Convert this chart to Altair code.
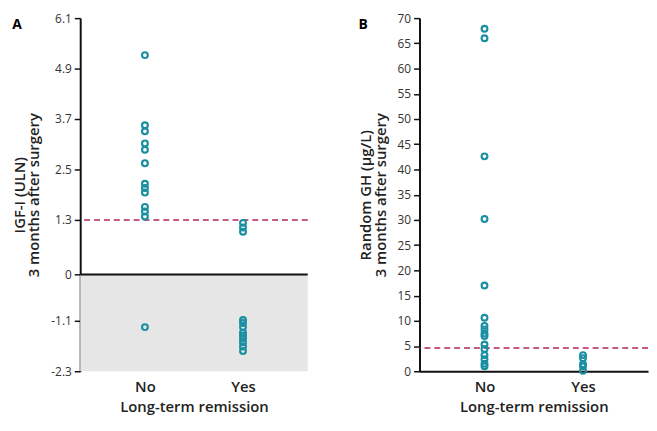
import altair as alt
import pandas as pd

categories = ["No", "Yes"]

# Panel A: IGF-I (ULN) 3 months after surgery
igf_no = [5.22, 3.55, 3.41, 3.12, 2.97, 2.65, 2.16, 2.06, 1.95, 1.61, 1.50, 1.38, -1.25]
igf_yes = [1.23, 1.12, 1.02, -1.08, -1.15, -1.25, -1.38, -1.45, -1.52, -1.61, -1.71, -1.82]
igf_ticks = [-2.3, -1.1, 0, 1.3, 2.5, 3.7, 4.9, 6.1]
igf_domain = [-2.3, 6.1]
igf_cutoff = 1.3

# Panel B: Random GH (µg/L) 3 months after surgery
gh_no = [67.9, 66.0, 42.6, 30.2, 17.0, 10.6, 9.0, 8.3, 7.5, 7.0, 5.3, 4.4, 3.2, 2.4, 1.5, 1.0]
gh_yes = [3.2, 2.6, 1.4, 1.0, 0.1]
gh_ticks = [0, 5, 10, 15, 20, 25, 30, 35, 40, 45, 50, 55, 60, 65, 70]
gh_domain = [0, 70]
gh_cutoff = 4.6

TEAL = "#1a8fa2"
RED = "#b3245c"
GREY = "#e6e6e6"
FONT = "Open Sans"
WA, HA = 230, 357
WB, HB = 231, 357

dfA = pd.DataFrame({
    "group": ["No"] * len(igf_no) + ["Yes"] * len(igf_yes),
    "value": igf_no + igf_yes,
})
dfB = pd.DataFrame({
    "group": ["No"] * len(gh_no) + ["Yes"] * len(gh_yes),
    "value": gh_no + gh_yes,
})

def xenc(show_domain):
    return alt.X(
        "group:N",
        scale=alt.Scale(type="point", padding=0.66, domain=categories),
        axis=alt.Axis(
            title="Long-term remission", labelAngle=0, ticks=False,
            domain=show_domain, domainColor="#111111", domainWidth=2,
            labelFontSize=15, labelFontWeight=600, labelColor="#222222",
            labelPadding=8, titleFontSize=15, titleFontWeight=600,
            titleColor="#222222", titlePadding=6,
        ),
    )

def yenc(title, ticks, domain):
    return alt.Y(
        "value:Q",
        scale=alt.Scale(domain=domain, nice=False, zero=False),
        axis=alt.Axis(
            title=title, values=ticks, labelExpr="datum.value + ''",
            grid=False, domainColor="#111111", domainWidth=2,
            tickColor="#111111", tickWidth=1.5, tickSize=6,
            labelFontSize=12, labelColor="#333333", labelPadding=3,
            labelOverlap=False,
            titleFontSize=15, titleFontWeight=600, titleColor="#222222",
            titlePadding=9, titleLineHeight=15,
        ),
    )

def panel_title(letter):
    return alt.TitleParams(letter, anchor="start", frame="bounds", fontSize=14,
                           fontWeight="bold", font=FONT, offset=-20)

# Panel A
yA = yenc(["IGF-I (ULN)", "3 months after surgery"], igf_ticks, igf_domain)
ptsA = alt.Chart(dfA).mark_point(
    shape="circle", filled=False, size=34, strokeWidth=2.2, color=TEAL, opacity=1
).encode(x=xenc(False), y=yA)
shadeA = alt.Chart(pd.DataFrame({"value": [igf_domain[0]], "top": [0]})).mark_rect(
    color=GREY
).encode(y=yA, y2="top:Q", x=alt.value(0), x2=alt.value(WA))
zeroA = alt.Chart(pd.DataFrame({"value": [0]})).mark_rule(
    color="#111111", strokeWidth=2
).encode(y=yA)
cutA = alt.Chart(pd.DataFrame({"value": [igf_cutoff]})).mark_rule(
    color=RED, strokeWidth=1.6, strokeDash=[6, 4]
).encode(y=yA)

panelA = alt.layer(shadeA, zeroA, cutA, ptsA).properties(
    width=WA, height=HA, title=panel_title("A")
)

# Panel B
yB = yenc(["Random GH (µg/L)", "3 months after surgery"], gh_ticks, gh_domain)
ptsB = alt.Chart(dfB).mark_point(
    shape="circle", filled=False, size=34, strokeWidth=2.2, color=TEAL, opacity=1
).encode(x=xenc(True), y=yB)
cutB = alt.Chart(pd.DataFrame({"value": [gh_cutoff]})).mark_rule(
    color=RED, strokeWidth=1.6, strokeDash=[6, 4]
).encode(y=yB)

panelB = alt.layer(cutB, ptsB).properties(
    width=WB, height=HB, title=panel_title("B")
)

chart = alt.hconcat(panelA, panelB, spacing=50).properties(
    padding={"left": 4, "top": 2, "right": 0, "bottom": 0}
).configure(font=FONT).configure_view(stroke=None)

chart.save("out.html", embed_options={"renderer": "svg", "actions": False})
